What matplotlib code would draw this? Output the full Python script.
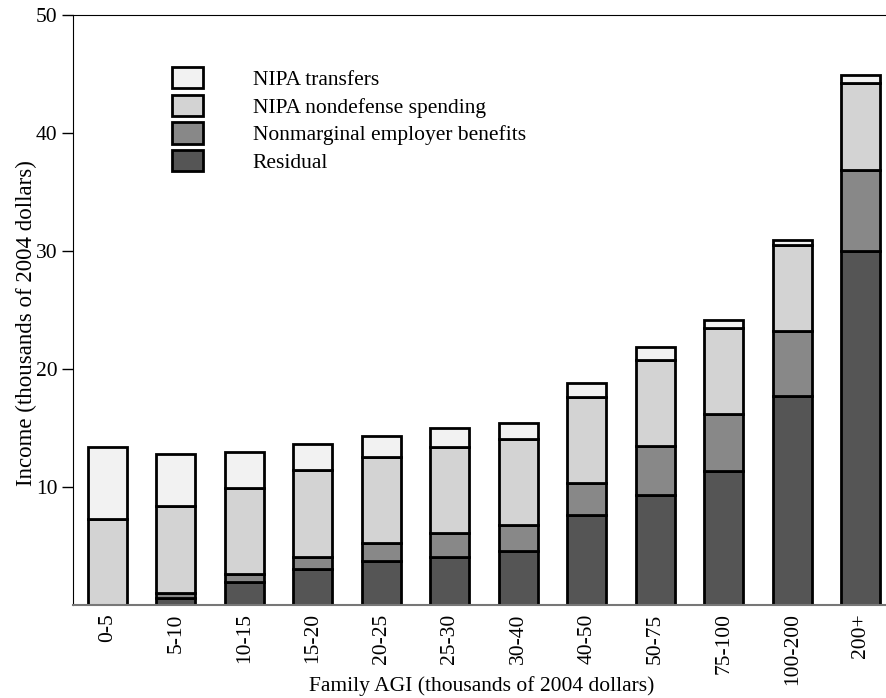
import numpy as np
import matplotlib
matplotlib.use('Agg')
import matplotlib.pyplot as plt

plt.rcParams['font.family'] = 'Liberation Serif'
plt.rcParams['font.size'] = 15.5

cats = ['0-5', '5-10', '10-15', '15-20', '20-25', '25-30', '30-40',
        '40-50', '50-75', '75-100', '100-200', '200+']
# thousands of 2004 dollars per family
residual = [0.0, 0.6, 1.95, 3.05, 3.7, 4.1, 4.55, 7.6, 9.35, 11.35, 17.7, 30.0]
employer = [0.0, 0.4, 0.65, 1.05, 1.55, 2.0, 2.2, 2.75, 4.15, 4.8, 5.55, 6.9]
nondefense = [7.3, 7.35, 7.35, 7.35, 7.3, 7.3, 7.3, 7.25, 7.3, 7.3, 7.3, 7.3]
transfers = [6.05, 4.45, 3.0, 2.2, 1.8, 1.6, 1.4, 1.2, 1.05, 0.7, 0.35, 0.7]

fig = plt.figure(figsize=(8.87, 6.98), dpi=100)
ax = fig.add_axes([0.0823, 0.1332, 0.9177, 0.8453])

x = np.arange(len(cats))
w = 0.57
bottom = np.zeros(len(cats))
series = [(residual, '#555555', 'Residual'),
          (employer, '#888888', 'Nonmarginal employer benefits'),
          (nondefense, '#d3d3d3', 'NIPA nondefense spending'),
          (transfers, '#f2f2f2', 'NIPA transfers')]
handles = []
for vals, col, lab in series:
    b = ax.bar(x, vals, w, bottom=bottom, color=col, edgecolor='black',
               linewidth=2, label=lab)
    handles.append(b)
    bottom += np.array(vals)

ax.legend(handles[::-1], [s[2] for s in series[::-1]], loc='upper left',
          bbox_to_anchor=(0.098, 0.945), frameon=False, fontsize=15.5,
          handlelength=1.44, handleheight=1.15, handletextpad=2.3,
          labelspacing=0.22)

ax.set_xlim(-0.5, 11.38)
ax.set_ylim(0, 50)
ax.set_yticks([10, 20, 30, 40, 50])
ax.set_xticks(x)
ax.set_xticklabels(cats, rotation=90)
ax.tick_params(axis='x', length=0, pad=6)
ax.tick_params(axis='y', length=8, width=1, direction='out', pad=3)
ax.spines['right'].set_visible(False)
ax.spines['bottom'].set_color('#777777')
ax.spines['bottom'].set_linewidth(1.5)
ax.set_ylabel('Income (thousands of 2004 dollars)', fontsize=16.5)
ax.yaxis.set_label_coords(-0.044, 0.478)
ax.set_xlabel('Family AGI (thousands of 2004 dollars)', fontsize=15.5)
ax.xaxis.set_label_coords(0.502, -0.121)

plt.savefig('out.png', dpi=100)
